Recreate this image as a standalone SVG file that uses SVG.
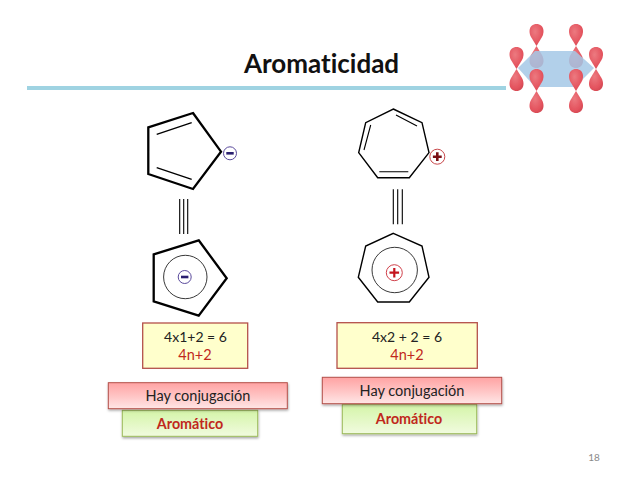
<svg xmlns="http://www.w3.org/2000/svg" xmlns:xlink="http://www.w3.org/1999/xlink" width="638" height="479" viewBox="0 0 638 479">
<style>
text{font-family:"Lato","Open Sans","Liberation Sans",sans-serif;text-anchor:middle;font-variant-ligatures:none}
.bond{fill:none;stroke:#000;stroke-linejoin:miter}
.b3{stroke-width:2.300}
.b2{stroke-width:1.400}
.thin{stroke-width:0.900;fill:none;stroke:#222}
.lbl{font-size:14.500px;fill:#222}
.num{font-size:14px;fill:#222}
.red{font-size:14.500px;fill:#c0281c}
.aro{font-size:14.300px;font-weight:700;fill:#c0281c}
.yellow{fill:#ffffcc;stroke:#b4504a;stroke-width:1.300}
.pink{fill:url(#pink);stroke:#b4504a;stroke-width:1}
.green{fill:url(#green);stroke:#9bbb59;stroke-width:1}
</style>
<defs>
<linearGradient id="pink" x1="0" y1="0" x2="0" y2="1"><stop offset="0" stop-color="#ffa3a3"/><stop offset="0.45" stop-color="#ffc0c0"/><stop offset="1" stop-color="#ffe6e6"/></linearGradient>
<linearGradient id="green" x1="0" y1="0" x2="0" y2="1"><stop offset="0" stop-color="#d4f4a8"/><stop offset="1" stop-color="#f1fbdf"/></linearGradient>
<radialGradient id="lobe" cx="0.4" cy="0.35" r="0.75"><stop offset="0" stop-color="#ec7a80"/><stop offset="0.7" stop-color="#e4535e"/><stop offset="1" stop-color="#cf4650"/></radialGradient>
<filter id="sh" x="-5%" y="-15%" width="110%" height="135%"><feDropShadow dx="0.500" dy="1.500" stdDeviation="1.200" flood-color="#000" flood-opacity="0.350"/></filter>
<filter id="soft" x="-20%" y="-20%" width="140%" height="140%"><feGaussianBlur stdDeviation="0.400"/></filter>
<path id="up" fill="url(#lobe)" d="M0 0L-5.500-9C-6.600-11-7-13-7-15C-7-19.500-3.500-22 0-22C3.500-22 7-19.500 7-15C7-13 6.600-11 5.500-9Z"/>
<path id="dn" fill="url(#lobe)" d="M0 0L-5.500 9C-6.600 11-7 13-7 15C-7 19.500-3.500 22 0 22C3.500 22 7 19.500 7 15C7 13 6.600 11 5.500 9Z"/>
</defs>
<rect width="638" height="479" fill="#fff"/>

<g id="title"><text x="321.500" y="73" font-size="26" font-weight="700" fill="#111">Aromaticidad</text></g>
<g id="rule"><rect x="27" y="86" width="479" height="4" fill="#9fd3e2"/></g>

<g id="orbitals" filter="url(#soft)">
<use xlink:href="#dn" x="536.500" y="46"/>
<use xlink:href="#dn" x="576" y="46"/>
<polygon points="518,68 535,51 575,51 594,68 575,87 535,87" fill="#a5c8e6" fill-opacity="0.850"/>
<use xlink:href="#up" x="536.500" y="46"/>
<use xlink:href="#up" x="576" y="46"/>
<use xlink:href="#up" x="516.500" y="69"/>
<use xlink:href="#dn" x="516.500" y="69"/>
<use xlink:href="#up" x="596" y="69"/>
<use xlink:href="#dn" x="596" y="69"/>
<use xlink:href="#up" x="536.500" y="91"/>
<use xlink:href="#dn" x="536.500" y="91"/>
<use xlink:href="#up" x="576" y="91"/>
<use xlink:href="#dn" x="576" y="91"/>
</g>

<g id="cyclopentadienyl-resonance">
<polygon class="bond b3" points="193,113 221,151.700 193,189 148.300,174 148.300,127.300"/>
<path class="bond b2" d="M156.700 134.300L191.700 122.700M156.700 167.700L191.700 179.300"/>
<circle cx="230" cy="153.300" r="6.500" fill="#fff" stroke="#5a4a9c" stroke-width="1"/>
<rect x="226.300" y="152" width="7.400" height="2.600" fill="#2a1f70"/>
</g>
<g id="cyclopentadienyl-aromatic">
<polygon class="bond b3" points="198.700,240.300 226.700,278.300 198.700,315.700 153.700,301.300 153.700,254.300"/>
<circle class="thin" cx="185.300" cy="277" r="21.700"/>
<circle cx="184.700" cy="277" r="6.500" fill="#fff" stroke="#5a4a9c" stroke-width="1"/>
<rect x="181" y="275.700" width="7.400" height="2.600" fill="#2a1f70"/>
</g>
<g id="tropylium-resonance">
<polygon class="bond b2" points="393.300,109 422,122.700 429,152.700 409.300,177.700 377.700,177.700 358.700,152.700 365.700,122.700"/>
<path class="bond" stroke-width="1.100" d="M396 115L417 126M370.700 125L364 150M379.300 171.700L408.300 171.700"/>
<circle cx="437.300" cy="156.700" r="7.500" fill="#fff" stroke="#c8474a" stroke-width="1"/>
<path d="M437.300 152.300V161.100M432.900 156.700H441.700" stroke="#7a0f14" stroke-width="2.600" fill="none"/>
</g>
<g id="tropylium-aromatic">
<polygon class="bond b2" points="393.300,233.300 422,246 429,277.300 409.300,302 377.700,302 358.300,277.300 365.700,246"/>
<circle class="thin" cx="394.700" cy="270" r="22.700"/>
<circle cx="394.300" cy="272.700" r="8" fill="#fff" stroke="#d0404a" stroke-width="1"/>
<path d="M394.300 267.900V277.500M389.500 272.700H399.100" stroke="#c4141e" stroke-width="2.200" fill="none"/>
</g>

<g id="connectors">
<path class="bond" stroke-width="1.100" d="M179.700 199V234M183.700 199V234M187.700 199V234"/>
<path class="bond" stroke-width="1.100" d="M393.300 189.300V224.300M397.700 189.300V224.300M402.300 189.300V224.300"/>
</g>

<g id="formula-left">
<rect class="yellow" x="142.700" y="323" width="105" height="45.300"/>
<text class="num" x="195.500" y="342">4x1+2 = 6</text>
<text class="red" x="195" y="360">4n+2</text>
</g>
<g id="formula-right">
<rect class="yellow" x="337" y="322.700" width="140.300" height="45.600"/>
<text class="num" x="407" y="342">4x2 + 2 = 6</text>
<text class="red" x="407" y="360">4n+2</text>
</g>
<g id="aromatic-left">
<rect class="green" x="122.300" y="410.300" width="135.400" height="26" filter="url(#sh)"/>
<text class="aro" x="190" y="429">Aromático</text>
</g>
<g id="conjugation-left">
<rect class="pink" x="108.300" y="382.700" width="179" height="26" filter="url(#sh)"/>
<text class="lbl" x="198" y="401">Hay conjugación</text>
</g>
<g id="aromatic-right">
<rect class="green" x="342.300" y="404.300" width="134.400" height="29.400" filter="url(#sh)"/>
<text class="aro" x="409" y="424">Aromático</text>
</g>
<g id="conjugation-right">
<rect class="pink" x="322.300" y="377.300" width="179.400" height="26.400" filter="url(#sh)"/>
<text class="lbl" x="412" y="396">Hay conjugación</text>
</g>
<g id="page-number"><text x="594" y="461" font-size="10" fill="#8a8a8a">18</text></g>
</svg>
